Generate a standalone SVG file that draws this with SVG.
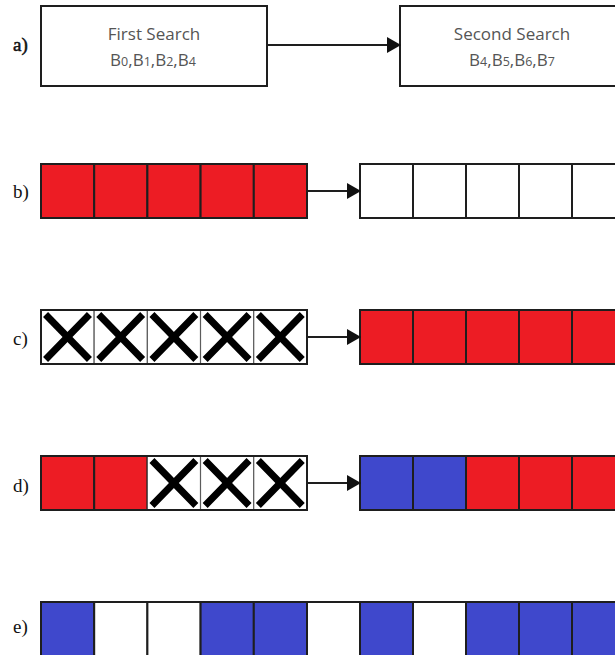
<svg xmlns="http://www.w3.org/2000/svg" width="615" height="655" viewBox="0 0 615 655">
  <style>
    .lbl { font-family: "Liberation Serif", "DejaVu Serif", serif; font-size: 19px; fill: #111; }
    .heavy { stroke: #111; stroke-width: 0.5; }
    .box { fill: #fff; stroke: #1e1e1e; stroke-width: 2; }
    .title { font-family: "Open Sans", "Noto Sans", sans-serif; font-size: 17px; fill: #555; text-anchor: middle; }
    .sub { font-size: 12.5px; }
    .r { fill: #ed1c24; }
    .b { fill: #3f48cc; }
    .w { fill: #fff; }
    .cell { stroke: #1e1e1e; stroke-width: 2; }
    .thin { stroke: #555; stroke-width: 1; }
    .frame { fill: none; stroke: #1e1e1e; stroke-width: 2; }
    .x { stroke: #000; stroke-width: 7; stroke-linecap: square; }
    .conn { stroke: #1e1e1e; stroke-width: 2; fill: none; marker-end: url(#arrow); }
  </style>
  <defs>
    <marker id="arrow" markerUnits="userSpaceOnUse" markerWidth="14" markerHeight="16" refX="13" refY="8" orient="auto">
      <path d="M0,0 L14,8 L0,16 Z" fill="#111"/>
    </marker>
    <!-- crossed-out cell, 53 x 54 -->
    <g id="xcell">
      <rect class="w thin" x="0" y="0" width="53" height="54"/>
      <line class="x" x1="7" y1="7" x2="46" y2="47"/>
      <line class="x" x1="46" y1="7" x2="7" y2="47"/>
    </g>
  </defs>

  <!-- row labels -->
  <text class="lbl heavy" x="13" y="51">a)</text>
  <text class="lbl" x="13" y="198">b)</text>
  <text class="lbl" x="13" y="345">c)</text>
  <text class="lbl" x="13" y="492">d)</text>
  <text class="lbl" x="13" y="633">e)</text>

  <!-- a) search stages -->
  <g id="first-search">
    <rect class="box" x="41" y="6" width="226" height="80"/>
    <text class="title" x="154" y="40">First Search</text>
    <text class="title" x="153" y="66" font-size="16">B<tspan class="sub">0</tspan>,B<tspan class="sub">1</tspan>,B<tspan class="sub">2</tspan>,B<tspan class="sub">4</tspan></text>
  </g>
  <g id="second-search">
    <rect class="box" x="400" y="6" width="240" height="80"/>
    <text class="title" x="512" y="40">Second Search</text>
    <text class="title" x="512" y="66" font-size="16">B<tspan class="sub">4</tspan>,B<tspan class="sub">5</tspan>,B<tspan class="sub">6</tspan>,B<tspan class="sub">7</tspan></text>
  </g>

  <!-- b) -->
  <g id="b-left">
    <rect class="r cell" x="41" y="164" width="53.2" height="54"/>
    <rect class="r cell" x="94.2" y="164" width="53.2" height="54"/>
    <rect class="r cell" x="147.4" y="164" width="53.2" height="54"/>
    <rect class="r cell" x="200.6" y="164" width="53.2" height="54"/>
    <rect class="r cell" x="253.8" y="164" width="53.2" height="54"/>
  </g>
  <g id="b-right">
    <rect class="w cell" x="360" y="164" width="53" height="54"/>
    <rect class="w cell" x="413" y="164" width="53" height="54"/>
    <rect class="w cell" x="466" y="164" width="53" height="54"/>
    <rect class="w cell" x="519" y="164" width="53" height="54"/>
    <rect class="w cell" x="572" y="164" width="53" height="54"/>
  </g>

  <!-- c) -->
  <g id="c-left">
    <use href="#xcell" x="41" y="310"/>
    <use href="#xcell" x="94.2" y="310"/>
    <use href="#xcell" x="147.4" y="310"/>
    <use href="#xcell" x="200.6" y="310"/>
    <use href="#xcell" x="253.8" y="310"/>
    <rect class="frame" x="41" y="310" width="266" height="54"/>
  </g>
  <g id="c-right">
    <rect class="r cell" x="360" y="310" width="53" height="54"/>
    <rect class="r cell" x="413" y="310" width="53" height="54"/>
    <rect class="r cell" x="466" y="310" width="53" height="54"/>
    <rect class="r cell" x="519" y="310" width="53" height="54"/>
    <rect class="r cell" x="572" y="310" width="53" height="54"/>
  </g>

  <!-- d) -->
  <g id="d-left">
    <rect class="r cell" x="41" y="456" width="53.2" height="54"/>
    <rect class="r cell" x="94.2" y="456" width="53.2" height="54"/>
    <use href="#xcell" x="147.4" y="456"/>
    <use href="#xcell" x="200.6" y="456"/>
    <use href="#xcell" x="253.8" y="456"/>
    <rect class="frame" x="41" y="456" width="266" height="54"/>
  </g>
  <g id="d-right">
    <rect class="b cell" x="360" y="456" width="53" height="54"/>
    <rect class="b cell" x="413" y="456" width="53" height="54"/>
    <rect class="r cell" x="466" y="456" width="53" height="54"/>
    <rect class="r cell" x="519" y="456" width="53" height="54"/>
    <rect class="r cell" x="572" y="456" width="53" height="54"/>
  </g>

  <!-- e) -->
  <g id="e-row">
    <rect class="b cell" x="41" y="602" width="53.2" height="60"/>
    <rect class="w cell" x="94.2" y="602" width="53.2" height="60"/>
    <rect class="w cell" x="147.4" y="602" width="53.2" height="60"/>
    <rect class="b cell" x="200.6" y="602" width="53.2" height="60"/>
    <rect class="b cell" x="253.8" y="602" width="53.2" height="60"/>
    <rect class="w cell" x="307" y="602" width="53" height="60"/>
    <rect class="b cell" x="360" y="602" width="53" height="60"/>
    <rect class="w cell" x="413" y="602" width="53" height="60"/>
    <rect class="b cell" x="466" y="602" width="53" height="60"/>
    <rect class="b cell" x="519" y="602" width="53" height="60"/>
    <rect class="b cell" x="572" y="602" width="53" height="60"/>
  </g>

  <!-- connectors -->
  <g id="connectors">
    <line class="conn" x1="268" y1="45" x2="400" y2="45"/>
    <line class="conn" x1="308" y1="191" x2="360" y2="191"/>
    <line class="conn" x1="308" y1="337" x2="360" y2="337"/>
    <line class="conn" x1="308" y1="483" x2="360" y2="483"/>
  </g>
</svg>
